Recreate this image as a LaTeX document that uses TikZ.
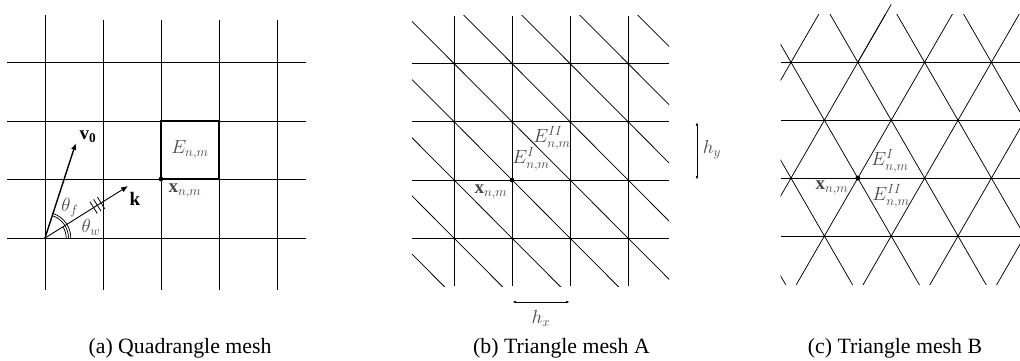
\RequirePackage{fix-cm}
\documentclass[tikz,border=0pt]{standalone}
\usepackage{fontspec}
\setmainfont{Liberation Serif}
\usetikzlibrary{arrows.meta,calc}
\tikzset{
  gridline/.style={line width=0.95pt, black},
  thinline/.style={line width=0.75pt, black},
  lbl/.style={text=black!72, font=\fontsize{19}{22}\selectfont, inner sep=0pt},
  boldlbl/.style={text=black, font=\fontsize{19}{22}\selectfont, inner sep=0pt},
  capt/.style={font=\fontsize{21.8}{26}\selectfont, inner sep=0pt, anchor=base},
  vec/.style={-{Latex[length=7pt,width=5.5pt]}},
  harrow/.style={{Latex[length=4pt,width=2.6pt]}-{Latex[length=4pt,width=2.6pt]}, line width=0.8pt},
}
\begin{document}
\begin{tikzpicture}[x=1pt,y=-1pt]
\useasboundingbox (0,0) rectangle (1020,361);

% ---------------- (a) Quadrangle mesh ----------------
\draw[gridline] (45,15) -- (45,290);
\foreach \x in {103,161,219,277} \draw[gridline] (\x,20) -- (\x,290);
\foreach \y in {62,121,179,238} \draw[gridline] (7,\y) -- (306,\y);
\draw[line width=1.15pt] (161,179) rectangle (219,121);
\coordinate (xa) at (161,179);
\fill (xa) circle (2.3);
\node[lbl] (Ea) at (190,150) {$E_{n,m}$};
\node[lbl] (xal) at (185,191) {$\mathbf{x}_{n,m}$};

\coordinate (O) at (45,238);
\coordinate (vt) at ($(O)+(-72:100)$);
\coordinate (kt) at ($(O)+(-32:98)$);
\draw[vec, line width=1.4pt] (O) -- (vt);
\draw[vec, line width=0.9pt] (O) -- (kt);
\foreach \d in {0.585,0.63,0.675}
  \draw[line width=0.8pt] ($(O)!\d!(kt)!7pt!90:(kt)$) -- ($(O)!\d!(kt)!-7pt!90:(kt)$);
\draw[thinline] (O) ++(23.5,0) arc[start angle=0,end angle=-72,radius=23.5];
\draw[thinline] (O) ++(25.8,0) arc[start angle=0,end angle=-72,radius=25.8];
\draw[thinline] (O) ++(21.2,0) arc[start angle=0,end angle=-32,radius=21.2];
\node[boldlbl] (v0l) at (88,137) {$\mathbf{v_0}$};
\node[boldlbl] (kl) at (135,199) {$\mathbf{k}$};
\node[lbl] (thf) at (70,208) {$\theta_f$};
\node[lbl] (thw) at (91,227) {$\theta_w$};
\node[capt] (capA) at (180,353) {(a) Quadrangle mesh};

% ---------------- (b) Triangle mesh A ----------------
\begin{scope}
  \clip (412,16) rectangle (669,286);
  \foreach \k in {-6,...,6}
    \draw[thinline] ({454+58*\k-58*5},{63.5-58.2*5}) -- ({454+58*\k+58*6},{63.5+58.2*6});
\end{scope}
\foreach \x in {454,512,570,628} \draw[gridline] (\x,16) -- (\x,286);
\foreach \y in {63.5,121.8,180.1,238.4} \draw[gridline] (412,\y) -- (669,\y);
\foreach \x in {454,512,570,628}
  \foreach \y in {63.5,121.8,180.1,238.4} \fill (\x,\y) circle (1.1);
\coordinate (xb) at (512,180.1);
\fill (xb) circle (2.3);
\node[lbl] (xbl) at (491,192) {$\mathbf{x}_{n,m}$};
\node[lbl] (EIb) at (531,159) {$E^{I}_{n,m}$};
\node[lbl] (EIIb) at (552,138) {$E^{II}_{n,m}$};
\coordinate (hy1) at (697,121.8);
\coordinate (hy2) at (697,180.1);
\draw[harrow] (hy1) -- (hy2);
\node[lbl] (hyl) at (712,150) {$h_y$};
\coordinate (hx1) at (512,302);
\coordinate (hx2) at (570,302);
\draw[harrow] (hx1) -- (hx2);
\node[lbl] (hxl) at (541,318) {$h_x$};
\node[capt] (capB) at (561.5,353) {(b) Triangle mesh A};

% ---------------- (c) Triangle mesh B ----------------
\begin{scope}
  \clip (780.7,15) rectangle (1020,284.3);
  \foreach \i in {-5,...,8} {
    \draw[thinline] ({791+66.8*\i+33.4},{62.3-57.9}) -- ({791+66.8*\i-33.4*6},{62.3+57.9*6});
    \draw[thinline] ({791+66.8*\i-33.4},{62.3-57.9}) -- ({791+66.8*\i+33.4*6},{62.3+57.9*6});
  }
  \foreach \y in {62.3,120.2,178.1,236} \draw[line width=0.95pt] (780.7,\y) -- (1020,\y);
\end{scope}
\draw[thinline] (857.8,62.3) -- (891.2,4.4);
\foreach \x in {791,857.8,924.6,991.4} {
  \fill (\x,62.3) circle (1.2);
  \fill (\x,178.1) circle (1.2);
}
\foreach \x in {824.4,891.2,958} {
  \fill (\x,120.2) circle (1.2);
  \fill (\x,236) circle (1.2);
}
\coordinate (xc) at (857.8,178.1);
\fill (xc) circle (2.5);
\node[lbl] (xcl) at (832,188) {$\mathbf{x}_{n,m}$};
\node[lbl] (EIc) at (890,161) {$E^{I}_{n,m}$};
\node[lbl] (EIIc) at (891,196) {$E^{II}_{n,m}$};
\node[capt] (capC) at (895,353) {(c) Triangle mesh B};
\end{tikzpicture}
\end{document}
